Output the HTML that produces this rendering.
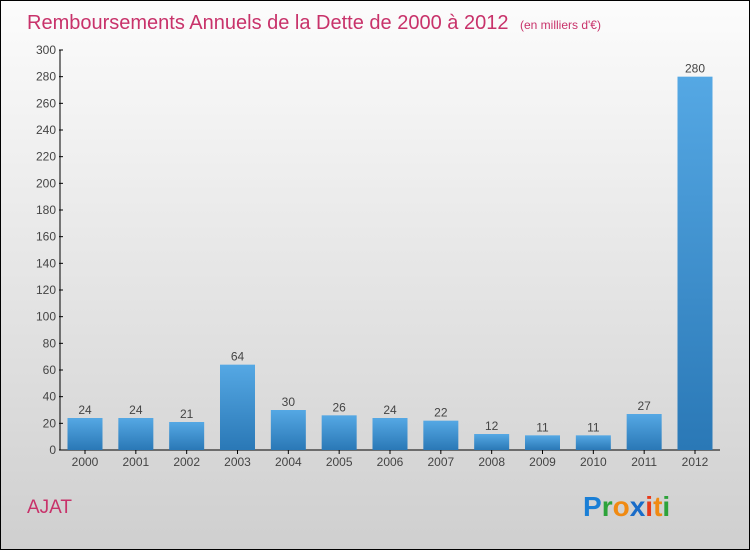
<!DOCTYPE html>
<html><head><meta charset="utf-8"><style>
body{margin:0}
svg{display:block;font-family:"Liberation Sans",sans-serif}
</style></head><body>
<svg id="c" width="750" height="550" xmlns="http://www.w3.org/2000/svg">
<defs>
<linearGradient id="bg" x1="0" y1="0" x2="0" y2="1"><stop offset="0" stop-color="#fcfcfc"/><stop offset="1" stop-color="#cfcfcf"/></linearGradient>
<linearGradient id="bar" x1="0" y1="0" x2="0" y2="1"><stop offset="0" stop-color="#55a8e4"/><stop offset="1" stop-color="#2a78b6"/></linearGradient>
</defs>
<rect x="0.5" y="0.5" width="749" height="549" fill="url(#bg)" stroke="#000"/>
<text x="27" y="29" font-size="20" fill="#c8326a">Remboursements Annuels de la Dette de 2000 à 2012 <tspan font-size="12" dx="6">(en milliers d'€)</tspan></text>
<text x="27" y="513" font-size="19" fill="#c8326a">AJAT</text>
<g font-size="28" font-weight="bold">
<text x="583" y="516"><tspan fill="#1a7fd6">P</tspan><tspan fill="#2da33a">r</tspan><tspan fill="#f08a12">o</tspan><tspan fill="#1a6cc8">x</tspan><tspan fill="#e83a1a">i</tspan><tspan fill="#f08a12">t</tspan><tspan fill="#2da33a">i</tspan></text>
</g>
<g id="axes"></g><g id="bars"></g>
</svg>
<script>
const categories=["2000","2001","2002","2003","2004","2005","2006","2007","2008","2009","2010","2011","2012"];
const values=[24,24,21,64,30,26,24,22,12,11,11,27,280];
const yTicks=[0,20,40,60,80,100,120,140,160,180,200,220,240,260,280,300];
const NS="http://www.w3.org/2000/svg";
const x0=60,x1=720,yBase=450,yTop=50,yMax=300;
const y=v=>yBase-(v/yMax)*(yBase-yTop);
const first=85,last=695;
const step=(last-first)/(categories.length-1);
const xc=i=>first+step*i;
function mk(t,a,p){const e=document.createElementNS(NS,t);for(const k in a)e.setAttribute(k,a[k]);p.appendChild(e);return e;}
const ax=document.getElementById('axes'),bg=document.getElementById('bars');
const yl=mk('line',{x1:x0,y1:yTop,x2:x0,y2:yBase,stroke:'#000'},ax);


const xl=mk('line',{x1:x0,y1:yBase,x2:x1,y2:yBase,stroke:'#000'},ax);


yTicks.forEach(t=>{
 mk('line',{x1:x0-1,y1:y(t),x2:x0+3,y2:y(t),stroke:'#000'},ax);
 const tx=mk('text',{x:x0-4,y:y(t)+4,'font-size':12,fill:'#444','text-anchor':'end'},ax);
 tx.textContent=t;
 
 
});
categories.forEach((c,i)=>{
 const w=35,v=values[i];
 const r=mk('rect',{x:xc(i)-w/2,y:y(v),width:w,height:yBase-y(v),fill:'url(#bar)'},bg);
 
 
 const lb=mk('text',{x:xc(i),y:y(v)-4,'font-size':12,fill:'#444','text-anchor':'middle'},bg);
 lb.textContent=v;
 
 
 mk('line',{x1:xc(i),y1:yBase,x2:xc(i),y2:yBase+4,stroke:'#000'},ax);
 const xt=mk('text',{x:xc(i),y:yBase+16,'font-size':12,fill:'#444','text-anchor':'middle'},ax);
 xt.textContent=c;
 
 
});
</script>
</body></html>
